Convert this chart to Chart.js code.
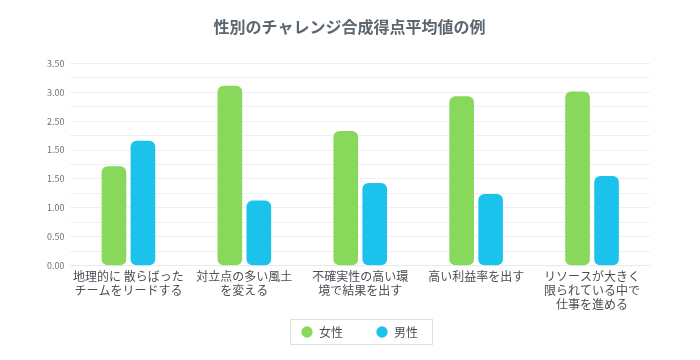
<!DOCTYPE html>
<html>
<head>
<meta charset="utf-8">
<script src="https://cdn.jsdelivr.net/npm/chart.js@4"></script>
<style>
  html, body { margin: 0; padding: 0; background: #fff; }
  #wrap { width: 700px; height: 360px; }
</style>
</head>
<body>
<div id="wrap"><canvas id="chart"></canvas></div>
<script>
// chart data
const categories = [
    ["地理的に 散らばった", "チームをリードする"],
    ["対立点の多い風土", "を変える"],
    ["不確実性の高い環", "境で結果を出す"],
    "高い利益率を出す",
    ["リソースが大きく", "限られている中で", "仕事を進める"]
];
const femaleValues = [1.72, 3.11, 2.33, 2.93, 3.01];
const maleValues = [2.16, 1.13, 1.43, 1.24, 1.55];
// labels as printed on the reference axis
const yTickLabels = ["0.00", "0.50", "1.00", "1.50", "1.50", "2.50", "3.00", "3.50"];

const fontFamily = "'Noto Sans CJK JP', 'Noto Sans', sans-serif";
const legendLift = 22;
const legendShift = 14;

// legend: take less room from the plot, shift it a little, draw a frame around it
const legendFrame = {
    id: "legendFrame",
    beforeLayout(chart) {
        const lg = chart.legend;
        if (lg && !lg._patched) {
            const fit = lg.fit.bind(lg);
            const draw = lg.draw.bind(lg);
            lg.fit = function () {
                fit();
                this.height -= legendLift;
            };
            lg.draw = function () {
                const saved = [this.top, this.height, this.left, this.right];
                this.top -= legendLift;
                this.height += legendLift;
                this.left += legendShift;
                this.right += legendShift;
                draw();
                [this.top, this.height, this.left, this.right] = saved;

                const boxes = this.legendHitBoxes;
                let left = Infinity, right = -Infinity, top = Infinity, bottom = -Infinity;
                boxes.forEach(b => {
                    left = Math.min(left, b.left);
                    right = Math.max(right, b.left + b.width);
                    top = Math.min(top, b.top);
                    bottom = Math.max(bottom, b.top + b.height);
                });
                left += legendShift; right += legendShift;
                top -= legendLift; bottom -= legendLift;
                const ctx = this.ctx;
                ctx.save();
                ctx.strokeStyle = "#dcdfe2";
                ctx.lineWidth = 1;
                ctx.strokeRect(Math.round(left - 11) + 0.5, Math.round(top - 7) + 0.5,
                    Math.round(right - left + 25), Math.round(bottom - top + 13));
                ctx.restore();
            };
            lg._patched = true;
        }
        // nudge the title a few pixels to the right
        const tb = chart.titleBlock;
        if (tb && !tb._patched) {
            const drawTitle = tb.draw.bind(tb);
            tb.draw = function () {
                this.ctx.save();
                this.ctx.translate(4, 1);
                drawTitle();
                this.ctx.restore();
            };
            tb._patched = true;
        }
    }
};

const ctx = document.getElementById("chart").getContext("2d");
new Chart(ctx, {
    type: "bar",
    data: {
        labels: categories,
        datasets: [{
            label: "女性",
            data: femaleValues,
            backgroundColor: "#88d85c",
            borderRadius: 6,
            borderSkipped: false
        }, {
            label: "男性",
            data: maleValues,
            backgroundColor: "#1bc3ec",
            borderRadius: 6,
            borderSkipped: false
        }]
    },
    options: {
        responsive: true,
        maintainAspectRatio: false,
        animation: false,
        layout: { padding: { left: 41, right: 50, top: 6, bottom: 12 } },
        datasets: {
            bar: { categoryPercentage: 0.5, barPercentage: 0.85 }
        },
        scales: {
            x: {
                grid: { display: false },
                border: { color: "#e8eaec" },
                ticks: {
                    color: "#4a4f55",
                    font: { family: fontFamily, size: 12 },
                    maxRotation: 0,
                    autoSkip: false,
                    padding: -5
                },
                afterFit(scale) {
                    scale.height += 8;
                }
            },
            y: {
                min: 0,
                max: 3.5,
                border: { display: false },
                grid: { color: "#eef0f2", drawTicks: false },
                ticks: {
                    stepSize: 0.25,
                    padding: 6,
                    color: "#6b737b",
                    font: { family: fontFamily, size: 9 },
                    callback: (value, index) => index % 2 === 0 ? yTickLabels[index / 2] : ""
                }
            }
        },
        plugins: {
            title: {
                display: true,
                text: "性別のチャレンジ合成得点平均値の例",
                color: "#5b6670",
                font: { family: fontFamily, size: 16, weight: "bold" },
                padding: { top: 10, bottom: 28 }
            },
            legend: {
                position: "bottom",
                labels: {
                    usePointStyle: true,
                    pointStyle: "circle",
                    boxWidth: 16,
                    boxHeight: 8,
                    padding: 33,
                    color: "#4a4f55",
                    font: { family: fontFamily, size: 12 }
                }
            },
            tooltip: { enabled: false }
        }
    },
    plugins: [legendFrame]
});
</script>
</body>
</html>
